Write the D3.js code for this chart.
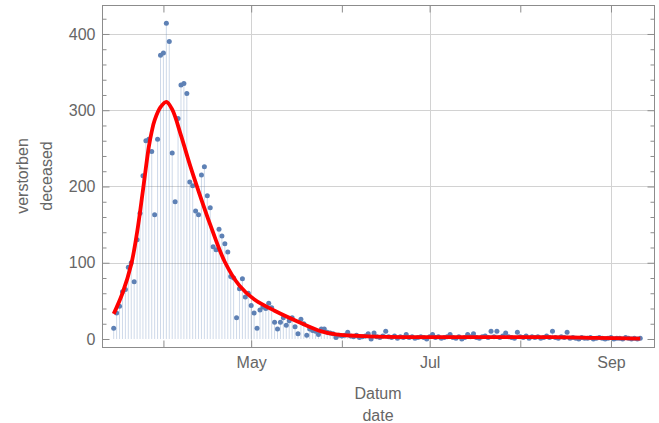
<!DOCTYPE html>
<html>
<head>
<meta charset="utf-8">
<script src="https://cdn.jsdelivr.net/npm/d3@7"></script>
<style>
  body { margin: 0; background: #fff; }
  svg { display: block; }
</style>
</head>
<body>
<div id="chart"></div>
<script>

// Daily deaths, one value per day starting at firstDay
const firstDay = '2020-03-15';
const deaths = [
  14, 34, 43, 62, 65, 94, 100, 75, 130, 165,
  214, 260, 262, 246, 163, 262, 372, 375, 414, 390,
  244, 180, 289, 333, 335, 322, 206, 201, 168, 163,
  215, 226, 188, 172, 121, 117, 144, 135, 125, 114,
  82, 80, 28, 66, 79, 55, 60, 44, 34, 14,
  38, 42, 40, 47, 41, 22, 13, 22, 28, 18,
  24, 28, 16, 7, 26, 20, 5, 13, 11, 10,
  6, 13, 13, 9, 8, 7, 2, 5, 4, 5,
  9, 4, 3, 5, 2, 3, 4, 7, 0, 8,
  3, 2, 4, 10, 3, 2, 4, 1, 3, 2,
  6, 2, 3, 1, 2, 3, 2, 0, 3, 6,
  2, 3, 1, 2, 3, 6, 2, 1, 3, 0,
  2, 6, 3, 7, 2, 1, 3, 4, 2, 10,
  3, 10, 2, 4, 8, 3, 2, 1, 9, 3,
  2, 4, 1, 3, 2, 3, 1, 2, 4, 2,
  10, 2, 1, 3, 2, 9, 1, 2, 1, 0,
  2, 1, 1, 2, 0, 1, 2, 1, 0, 1,
  2, 0, 1, 1, 0, 2, 1, 0, 1, 0, 1
];

// Fitted model (red curve)
const fitDates = [ '2020-03-15', '2020-03-18', '2020-03-21', '2020-03-23', '2020-03-25',
  '2020-03-27', '2020-03-28', '2020-03-29', '2020-03-31', '2020-04-02', '2020-04-04', '2020-04-07',
  '2020-04-10', '2020-04-13', '2020-04-17', '2020-04-22', '2020-04-27', '2020-05-02',
  '2020-05-09', '2020-05-18', '2020-05-25', '2020-05-30', '2020-06-10', '2020-06-28',
  '2020-08-12', '2020-08-27', '2020-09-11' ];
const fitValues = [ 33, 60, 98, 140, 195, 252, 272, 287, 304, 311, 301, 267,
  229, 194, 150, 101, 70, 52, 37, 21, 10, 6, 3.5, 2.5,
  2.5, 1.5, 0.5 ];

// Ticks
const yMajor = [ 0, 100, 200, 300, 400 ];
const yMinor = [ 20, 40, 60, 80, 120, 140, 160, 180, 220, 240, 260, 280, 320, 340, 360, 380, 420 ];
const monthTicks = [ '2020-04-01', '2020-05-01', '2020-06-01', '2020-07-01', '2020-08-01', '2020-09-01' ];
const labelledMonths = [ '2020-05-01', '2020-07-01', '2020-09-01' ];

const xAxisTitle = [ 'Datum', 'date' ];
const yAxisTitle = [ 'verstorben', 'deceased' ];

const parse = d3.utcParse( '%Y-%m-%d' );

const figure_width = 659;
const figure_height = 423;
const frame = { left: 102, right: 654, top: 5, bottom: 347 };

const textColor = '#666';
const frameColor = '#8c8c8c';
const gridColor = '#d2d2d2';
const pointColor = '#5e81b5';
const labelStyle = 'font-size:16px; font-family:Liberation Sans, Arial, sans-serif;';

const start = parse( firstDay );
const days = d3.utcDay.range( start, d3.utcDay.offset( start, deaths.length ) );
const data = days.map( function( d, i ) { return { date: d, value: deaths[ i ] }; } );
const fit = fitDates.map( function( d, i ) { return { date: parse( d ), value: fitValues[ i ] }; } );

const svg = d3.select( 'div#chart' )
  .append( 'svg' )
    .attr( 'width', figure_width )
    .attr( 'height', figure_height );

const x = d3.scaleUtc()
  .domain( [ new Date( Date.UTC( 2020, 2, 11 ) ), new Date( Date.UTC( 2020, 8, 15, 17 ) ) ] )
  .range( [ frame.left, frame.right ] );

const y = d3.scaleLinear()
  .domain( [ -10.5, 438 ] )
  .range( [ frame.bottom, frame.top ] );

// Grid lines
const grid = svg.append( 'g' ).attr( 'stroke', gridColor ).attr( 'stroke-width', 1 );
grid.selectAll( 'line.h' )
  .data( yMajor.filter( function( d ) { return d > 0; } ) )
  .enter()
  .append( 'line' )
    .attr( 'x1', frame.left ).attr( 'x2', frame.right )
    .attr( 'y1', function( d ) { return Math.round( y( d ) ) + 0.5; } )
    .attr( 'y2', function( d ) { return Math.round( y( d ) ) + 0.5; } );
grid.selectAll( 'line.v' )
  .data( labelledMonths )
  .enter()
  .append( 'line' )
    .attr( 'y1', frame.top ).attr( 'y2', frame.bottom )
    .attr( 'x1', function( d ) { return Math.round( x( parse( d ) ) ) + 0.5; } )
    .attr( 'x2', function( d ) { return Math.round( x( parse( d ) ) ) + 0.5; } );

// Filling to the axis
svg.append( 'g' )
  .selectAll( 'line' )
  .data( data )
  .enter()
  .append( 'line' )
    .attr( 'x1', function( d ) { return x( d.date ); } )
    .attr( 'x2', function( d ) { return x( d.date ); } )
    .attr( 'y1', y( 0 ) )
    .attr( 'y2', function( d ) { return y( d.value ); } )
    .attr( 'stroke', pointColor )
    .attr( 'stroke-opacity', 0.3 )
    .attr( 'stroke-width', 1 );

// Points
svg.append( 'g' )
  .selectAll( 'circle' )
  .data( data )
  .enter()
  .append( 'circle' )
    .attr( 'cx', function( d ) { return x( d.date ); } )
    .attr( 'cy', function( d ) { return y( d.value ); } )
    .attr( 'r', 2.5 )
    .attr( 'fill', pointColor );

// Fitted curve
const line = d3.line()
  .x( function( d ) { return x( d.date ); } )
  .y( function( d ) { return y( d.value ); } )
  .curve( d3.curveCatmullRom.alpha( 0.5 ) );

svg.append( 'path' )
  .datum( fit )
  .attr( 'd', line )
  .attr( 'fill', 'none' )
  .attr( 'stroke', '#ff0000' )
  .attr( 'stroke-width', 3.8 )
  .attr( 'stroke-linejoin', 'round' );

// Frame
svg.append( 'rect' )
  .attr( 'x', frame.left + 0.5 )
  .attr( 'y', frame.top + 0.5 )
  .attr( 'width', frame.right - frame.left )
  .attr( 'height', frame.bottom - frame.top )
  .attr( 'fill', 'none' )
  .attr( 'stroke', frameColor );

function styleAxis( g ) {
  g.select( '.domain' ).remove();
  g.selectAll( '.tick line' ).attr( 'stroke', frameColor );
  g.selectAll( '.tick text' ).attr( 'fill', textColor ).attr( 'style', labelStyle );
}

// Left axis: major ticks with labels, minor ticks without
svg.append( 'g' )
  .attr( 'transform', 'translate(' + ( frame.left + 0.5 ) + ',0)' )
  .call( d3.axisLeft( y ).tickValues( yMajor ).tickSize( -7 ).tickPadding( 7 ).tickSizeOuter( 0 ) )
  .call( styleAxis );
svg.append( 'g' )
  .attr( 'transform', 'translate(' + ( frame.left + 0.5 ) + ',0)' )
  .call( d3.axisLeft( y ).tickValues( yMinor ).tickSize( -4 ).tickFormat( '' ).tickSizeOuter( 0 ) )
  .call( styleAxis );

// Right axis: ticks only
svg.append( 'g' )
  .attr( 'transform', 'translate(' + ( frame.right + 0.5 ) + ',0)' )
  .call( d3.axisRight( y ).tickValues( yMajor ).tickSize( -7 ).tickFormat( '' ).tickSizeOuter( 0 ) )
  .call( styleAxis );
svg.append( 'g' )
  .attr( 'transform', 'translate(' + ( frame.right + 0.5 ) + ',0)' )
  .call( d3.axisRight( y ).tickValues( yMinor ).tickSize( -4 ).tickFormat( '' ).tickSizeOuter( 0 ) )
  .call( styleAxis );

// Bottom axis: month ticks, labels on every second month
svg.append( 'g' )
  .attr( 'transform', 'translate(0,' + ( frame.bottom + 0.5 ) + ')' )
  .call( d3.axisBottom( x )
    .tickValues( monthTicks.map( parse ) )
    .tickSize( -7 )
    .tickPadding( 9 )
    .tickSizeOuter( 0 )
    .tickFormat( function( d ) {
      return labelledMonths.indexOf( d3.utcFormat( '%Y-%m-%d' )( d ) ) >= 0 ? d3.utcFormat( '%b' )( d ) : '';
    } ) )
  .call( styleAxis );

// Top axis: ticks only
svg.append( 'g' )
  .attr( 'transform', 'translate(0,' + ( frame.top + 0.5 ) + ')' )
  .call( d3.axisTop( x ).tickValues( monthTicks.map( parse ) ).tickSize( -7 ).tickFormat( '' ).tickSizeOuter( 0 ) )
  .call( styleAxis );

// Axis titles
const xTitleX = ( frame.left + frame.right ) / 2;
svg.append( 'g' )
  .selectAll( 'text' )
  .data( xAxisTitle )
  .enter()
  .append( 'text' )
    .attr( 'x', xTitleX )
    .attr( 'y', function( d, i ) { return 399 + i * 22; } )
    .attr( 'text-anchor', 'middle' )
    .attr( 'fill', textColor )
    .attr( 'style', labelStyle )
    .text( function( d ) { return d; } );

const yTitleY = ( frame.top + frame.bottom ) / 2;
svg.append( 'g' )
  .attr( 'transform', 'translate(0,' + yTitleY + ') rotate(-90)' )
  .selectAll( 'text' )
  .data( yAxisTitle )
  .enter()
  .append( 'text' )
    .attr( 'x', 0 )
    .attr( 'y', function( d, i ) { return 28 + i * 24; } )
    .attr( 'text-anchor', 'middle' )
    .attr( 'fill', textColor )
    .attr( 'style', labelStyle )
    .text( function( d ) { return d; } )

</script>
</body>
</html>
